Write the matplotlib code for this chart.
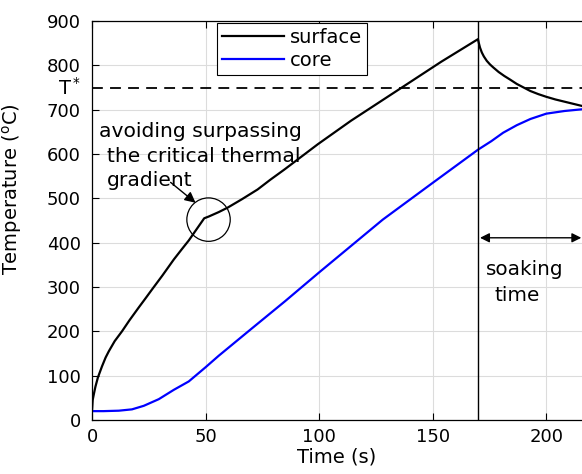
import matplotlib
matplotlib.use("Agg")
import matplotlib.pyplot as plt
from matplotlib.patches import Ellipse
from matplotlib.lines import Line2D

plt.rcParams['font.family'] = ['DejaVu Sans']

# ---- data ----
surface_t = [0, 0.3, 0.8, 1.5, 2.6, 4.4, 6, 7.4, 10, 13.2, 16.5, 20.6,
             23.5, 26.5, 31, 36, 39.5, 42.6, 46, 49.4,
             51.4, 55.8, 59.7, 66, 72.9, 78.5, 84.7, 99.4, 114, 137.6, 153.7, 169.9,
             170.3, 170.8, 171.6, 172.5, 173.8, 175.2, 176.7, 179, 181.5, 184,
             187, 190, 193, 196.5, 200, 204, 208, 212, 216]
surface_T = [20, 45, 58, 75, 96, 121, 141, 155, 178, 200, 225, 254,
             274, 295, 326, 362, 385, 405, 430, 455,
             459, 469, 479, 498, 520, 542, 565, 622, 675, 754, 808, 859,
             850, 840, 829, 820, 810, 802, 795, 785, 776, 768,
             758, 750, 742, 735, 729, 723, 718, 713, 708]

core_t = [0, 5, 11.8, 17.6, 22.8, 29.4, 36, 42.6, 50, 55.8, 70, 85, 100,
          128, 150, 170, 175.8, 181, 187, 193, 200, 208, 216]
core_T = [20, 20, 21, 24, 32, 47, 68, 87, 119, 145, 205, 268, 333,
          452, 535, 610, 629, 648, 665, 679, 691, 697, 701]

T_star = 750
t_soak = 170
x_max = 215.7
y_ticks = [0, 100, 200, 300, 400, 500, 600, 700, 800, 900]
x_ticks = [0, 50, 100, 150, 200]

fig = plt.figure(figsize=(5.82, 4.74), dpi=100)
ax = fig.add_axes([92 / 582, 54 / 474, 490 / 582, 399 / 474])

ax.plot(surface_t, surface_T, color='black', lw=1.6, label='surface')
ax.plot(core_t, core_T, color='#0000ff', lw=1.6, label='core')
ax.axhline(T_star, color='black', lw=1.3, ls=(0, (6, 4)))
ax.axvline(t_soak, color='black', lw=1.0)

ax.set_xlim(0, x_max)
ax.set_ylim(0, 900)
ax.set_xticks(x_ticks)
ax.set_yticks(y_ticks)
ax.grid(True, color='#dcdcdc', lw=0.8)
ax.set_axisbelow(True)
ax.tick_params(direction='in', labelsize=13, length=5, width=0.8,
               top=True, right=False, colors='black')
ax.tick_params(axis='x', pad=6)
ax.tick_params(axis='y', pad=8)
for s in ['left', 'bottom', 'top']:
    ax.spines[s].set_linewidth(0.9)
ax.spines['right'].set_visible(False)

ax.set_xlabel('Time (s)', fontsize=14, labelpad=1)
ax.set_ylabel('Temperature ($^{\\rm o}$C)', fontsize=14)
ax.yaxis.set_label_coords(-0.139, 0.579)

# T* label on the left of the axes
ax.text(-0.045, T_star, 'T$^*$', transform=ax.get_yaxis_transform(),
        ha='center', va='center', fontsize=14)

# legend
handles = [Line2D([], [], color='black', lw=1.6),
           Line2D([], [], color='#0000ff', lw=1.6)]
leg = ax.legend(handles, ['surface', 'core'], loc='upper left',
                bbox_to_anchor=(0.2545, 0.995), borderaxespad=0,
                fontsize=14, handlelength=3.2, handletextpad=0.3,
                fancybox=False, framealpha=1, edgecolor='black',
                borderpad=0.25, labelspacing=0.2)
leg.get_frame().set_linewidth(0.8)

# annotation: critical thermal gradient
ax.text(3.3, 650, 'avoiding surpassing', fontsize=14.6, ha='left', va='center')
ax.text(6.4, 595, 'the critical thermal', fontsize=14.6, ha='left', va='center')
ax.text(6.4, 540, 'gradient', fontsize=14.6, ha='left', va='center')
ax.add_patch(Ellipse((51.3, 452), 19.1, 98, fill=False, ec='black', lw=0.9))
ax.annotate('', xy=(45.6, 490), xytext=(34.6, 536),
            arrowprops=dict(arrowstyle='-|>', color='black', lw=1.0,
                            mutation_scale=16, shrinkA=0, shrinkB=0))

# soaking time arrow
ax.annotate('', xy=(x_max - 0.3, 411), xytext=(t_soak + 0.8, 411),
            arrowprops=dict(arrowstyle='<|-|>', color='black', lw=1.0,
                            mutation_scale=14, shrinkA=0, shrinkB=0))
ax.text(173.6, 339, 'soaking', fontsize=14.4, ha='left', va='center')
ax.text(177, 280, 'time', fontsize=14.4, ha='left', va='center')

fig.savefig('out.png', dpi=100)
